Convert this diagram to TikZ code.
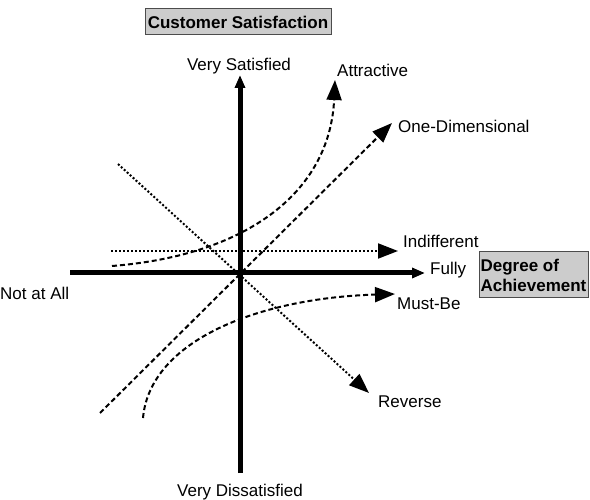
\documentclass[tikz,border=0pt]{standalone}
\usepackage{fontspec}
\setmainfont{Liberation Sans}
\usetikzlibrary{arrows.meta}

\begin{document}
\begin{tikzpicture}[x=1pt,y=-1pt,
	every node/.style={font=\fontsize{17}{20}\selectfont, inner sep=0pt},
	axisline/.style={line width=5pt, -{Triangle[length=13pt,width=10pt]}},
	dashcurve/.style={line width=2pt, dash pattern=on 5pt off 3pt, -{Triangle[length=20pt,width=15pt]}},
	dotcurve/.style={line width=2pt, dash pattern=on 2pt off 2pt, -{Triangle[length=20pt,width=15pt]}},
	titlebox/.style={draw=black!70, fill=black!20, line width=1pt, font=\fontsize{17}{20}\selectfont\bfseries}]

	\useasboundingbox (0,0) rectangle (590,500);

	% axes
	\coordinate (o) at (240,273);
	\coordinate (ytop) at (240,75);
	\coordinate (ybot) at (240,473);
	\coordinate (xleft) at (70,273);
	\coordinate (xright) at (425,273);
	\draw[axisline] (ybot) -- (ytop); %satisfaction
	\draw[axisline] (xleft) -- (xright); %achievement

	% curve ends
	\coordinate (att0) at (112,266);
	\coordinate (att1) at (335,80);
	\coordinate (one0) at (100,413);
	\coordinate (one1) at (392,123);
	\coordinate (ind0) at (111,251);
	\coordinate (ind1) at (398,251);
	\coordinate (must0) at (143,418);
	\coordinate (must1) at (395,294);
	\coordinate (rev0) at (118,164);
	\coordinate (rev1) at (369,393);

	\draw[dashcurve] (att0) .. controls (250,255) and (330,190) .. (att1); %attractive
	\draw[dashcurve] (one0) -- (one1); %one-dimensional
	\draw[dotcurve] (ind0) -- (ind1); %indifferent
	\draw[dashcurve] (must0) .. controls (150,340) and (260,298) .. (must1); %must-be
	\draw[dotcurve] (rev0) -- (rev1); %reverse

	% labels
	\node[titlebox, minimum width=186pt, minimum height=26pt] (cs) at (238,22) {Customer Satisfaction};
	\node[titlebox, minimum width=109pt, minimum height=46pt, align=left] (doa) at (533.5,275) {Degree of\\Achievement};
	\node[anchor=base] (vs) at (239,71) {Very Satisfied};
	\node[anchor=base] (vd) at (240,496) {Very Dissatisfied};
	\node[anchor=base west] (naa) at (0,300) {Not at All};
	\node[anchor=base west] (fully) at (430,275) {Fully};
	\node[anchor=base west] (attr) at (337,77) {Attractive};
	\node[anchor=base west] (onedim) at (398,133) {One-Dimensional};
	\node[anchor=base west] (indiff) at (403,248) {Indifferent};
	\node[anchor=base west] (mustbe) at (397,309) {Must-Be};
	\node[anchor=base west] (rev) at (378,407) {Reverse};

\end{tikzpicture}
\end{document}
